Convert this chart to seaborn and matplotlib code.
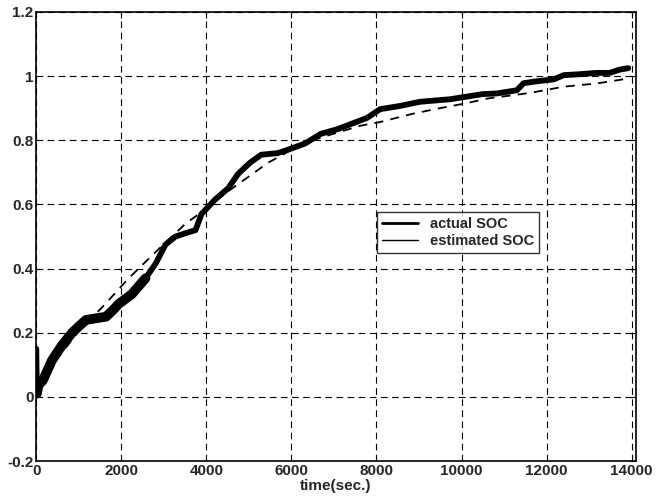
import numpy as np
import pandas as pd
import matplotlib
matplotlib.use('Agg')
import matplotlib.pyplot as plt
import seaborn as sns
from matplotlib.lines import Line2D

# ── Data ──────────────────────────────────────────────────────
est_time = [0, 15, 60, 150, 374, 600, 843, 1000, 1170, 1400, 1640, 1800, 1940,
            2245, 2570, 2805, 3040, 3275, 3500, 3745, 3885, 4210, 4510, 4745,
            5025, 5290, 5680, 5990, 6320, 6690, 7090, 7780, 8085, 8550, 9020,
            9730, 10500, 10830, 11300, 11460, 11770, 12170, 12400, 12780,
            13170, 13480, 13710, 13920]
est_soc = [0.15, 0.01, 0.04, 0.05, 0.115, 0.16, 0.20, 0.22, 0.24, 0.245, 0.25,
           0.27, 0.29, 0.32, 0.37, 0.415, 0.475, 0.50, 0.51, 0.52, 0.57, 0.616,
           0.65, 0.695, 0.73, 0.755, 0.76, 0.774, 0.79, 0.82, 0.835, 0.87,
           0.897, 0.907, 0.92, 0.928, 0.944, 0.946, 0.956, 0.978, 0.984, 0.99,
           1.003, 1.006, 1.01, 1.01, 1.02, 1.025]

act_time = [0, 500, 1000, 1575, 2175, 2715, 2950, 3510, 3980, 4500, 5030, 5450,
            6000, 6500, 6980, 7610, 8085, 8860, 9490, 10130, 10600, 11460,
            11700, 12400, 12780, 13170, 13800]
act_soc = [0.03, 0.12, 0.205, 0.283, 0.37, 0.44, 0.47, 0.54, 0.585, 0.64, 0.69,
           0.73, 0.77, 0.80, 0.82, 0.845, 0.857, 0.883, 0.90, 0.916, 0.93,
           0.945, 0.95, 0.967, 0.972, 0.977, 0.99]

est = pd.DataFrame({'time': est_time, 'soc': est_soc})
act = pd.DataFrame({'time': act_time, 'soc': act_soc})
est_early = est[(est['time'] >= 15) & (est['time'] <= 2600)]

sns.set_style('white')
plt.rcParams['font.family'] = ['Liberation Sans', 'DejaVu Sans']
plt.rcParams['font.weight'] = 'bold'

fig = plt.figure(figsize=(6.59, 4.99), dpi=100)
ax = fig.add_axes([0.055, 0.076, 0.91, 0.9])

sns.lineplot(data=act, x='time', y='soc', ax=ax, color='black', lw=1.3,
             linestyle=(0, (5, 4)), estimator=None, sort=False)
sns.lineplot(data=est, x='time', y='soc', ax=ax, color='black', lw=4.2,
             estimator=None, sort=False)
# noisier start of the estimate shows as a wider band
sns.lineplot(data=est_early, x='time', y='soc', ax=ax, color='black', lw=7,
             estimator=None, sort=False)

ax.set_xlim(0, 14100)
ax.set_ylim(-0.2, 1.2)
ax.set_xticks(np.arange(0, 14001, 2000))
ax.set_yticks(np.arange(-0.2, 1.21, 0.2))
ax.set_yticklabels(['-0.2', '0', '0.2', '0.4', '0.6', '0.8', '1', '1.2'])
ax.grid(True, color='black', linestyle=(0, (6, 4)), lw=0.8)
ax.tick_params(direction='in', top=True, right=True, length=4, labelsize=11,
               pad=2, color='black')
for lbl in ax.get_xticklabels() + ax.get_yticklabels():
    lbl.set_fontweight('bold')
for s in ax.spines.values():
    s.set_color('black')
    s.set_linewidth(1.2)
ax.set_xlabel('time(sec.)', fontsize=11, fontweight='bold', labelpad=1)
ax.set_ylabel('')

handles = [Line2D([], [], color='black', lw=2),
           Line2D([], [], color='black', lw=1)]
leg = ax.legend(handles, ['actual SOC', 'estimated SOC'], loc='upper left',
                bbox_to_anchor=(0.568, 0.555), frameon=True, fancybox=False,
                prop={'weight': 'bold', 'size': 10.5}, borderpad=0.35,
                handlelength=2.5, labelspacing=0.2, borderaxespad=0)
leg.get_frame().set_edgecolor('black')
leg.get_frame().set_linewidth(1.0)

fig.savefig('out.png', dpi=100)
